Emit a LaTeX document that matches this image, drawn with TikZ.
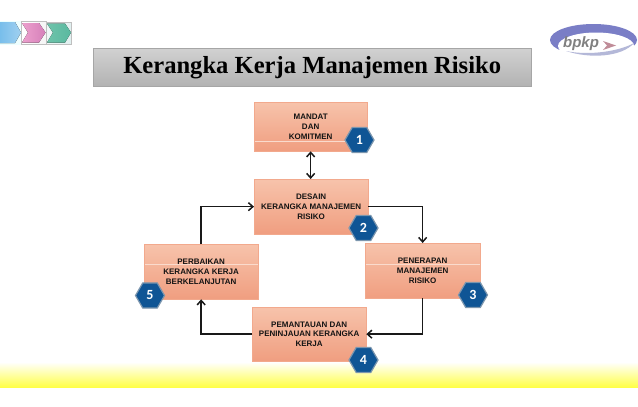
\documentclass[tikz,border=0pt]{standalone}
\usepackage{fontspec}
\setmainfont{Liberation Sans}
\newfontfamily\titlefont{Liberation Serif}
\newfontfamily\digitfont{Carlito}
\usetikzlibrary{shapes.geometric,arrows.meta,calc}
\definecolor{boxtop}{HTML}{F7C3AB}
\definecolor{boxbot}{HTML}{F09E80}
\definecolor{hexfill}{HTML}{0F5595}
\definecolor{hexedge}{HTML}{7C96AE}
\definecolor{logoblue}{HTML}{7A7EC6}
\definecolor{logolow}{HTML}{B4B8D8}
\definecolor{logored}{HTML}{C08C98}
\tikzset{
  x=1pt,y=-1pt,
  stepbox/.style={rectangle,anchor=north west,top color=boxtop,bottom color=boxbot,draw=boxbot!70!boxtop,line width=0.3pt,align=center,inner sep=0pt,font=\fontsize{8}{9.8}\selectfont\bfseries,text=black!92},
  hexa/.style={regular polygon,regular polygon sides=6,minimum size=29pt,inner sep=0pt,fill=hexfill,draw=hexedge,line width=1.2pt,text=white,font=\fontsize{14}{14}\selectfont\digitfont\bfseries},
  conn/.style={line width=1.5pt,black!90,-{Straight Barb[length=4.5pt,width=8pt]}},
  connb/.style={line width=1.5pt,black!90,{Straight Barb[length=4.5pt,width=8pt]}-{Straight Barb[length=4.5pt,width=8pt]}},
  shine/.style={boxtop!60!white,line width=0.4pt},
  shineat/.style={path picture={\draw[shine] ($(path picture bounding box.north west)+(0,#1)$) -- ($(path picture bounding box.north east)+(0,#1)$);}}
}
\begin{document}
\begin{tikzpicture}
\useasboundingbox (0,0) rectangle (638,407);
\fill[white] (0,0) rectangle (638,407);
% yellow band
\fill[top color=white,bottom color=yellow!72!white] (0,362) rectangle (638,387);
% top chevrons
\fill[left color=cyan!8!white,right color=cyan!6!white] (0,21) rectangle (21.5,44);
\fill[left color=white!100!black,right color=black!4] (21.5,21) rectangle (46,44);
\draw[black!25,line width=0.3pt] (21.5,21) rectangle (46,44);
\fill[left color=teal!6!white,right color=teal!12!white] (46.5,22) rectangle (71.5,44);
\draw[black!25,line width=0.3pt] (46.5,22) rectangle (71.5,44);
\fill[left color={rgb,255:red,120;green,190;blue,235},right color={rgb,255:red,160;green,208;blue,240}] (0,22) -- (15,22) -- (21,32.5) -- (15,43) -- (0,43) -- cycle;
\fill[left color={rgb,255:red,236;green,160;blue,205},right color={rgb,255:red,214;green,128;blue,186}] (22,23) -- (39,23) -- (45.5,32.5) -- (39,42.5) -- (22,42.5) -- (28,32.5) -- cycle;
\fill[left color={rgb,255:red,110;green,195;blue,170},right color={rgb,255:red,90;green,185;blue,160}] (47,23.5) -- (65,23.5) -- (71,32.5) -- (65,42.5) -- (47,42.5) -- (53,32.5) -- cycle;
% title bar
\node[rectangle,anchor=north west,minimum width=438pt,minimum height=38pt,inner sep=0pt,top color=black!18,bottom color=black!30,draw=black!35,line width=0.4pt,font=\fontsize{24.6}{26}\selectfont\titlefont\bfseries,text=black] (title) at (93,48) {Kerangka Kerja Manajemen Risiko};
% logo
\fill[logoblue] (593.5,40) ellipse [x radius=43.5,y radius=16];
\fill[white] (596,46) ellipse [x radius=38,y radius=13.5];
\fill[white] (550,50) rectangle (638,58);
\fill[logolow] (566,51) .. controls (590,56) and (620,51) .. (634,43) .. controls (622,57) and (590,59) .. (566,51) -- cycle;
\fill[logored] (603,41) -- (616,45.5) -- (603,50) -- (607,45.5) -- cycle;
\node[font=\fontsize{15}{15}\selectfont\itshape\bfseries,text=black!50,inner sep=0pt] (logo) at (581,44) {bpkp};
% boxes
\node[stepbox,shineat=39,minimum width=113pt,minimum height=49pt] (m) at (254,102) {MANDAT\\DAN\\KOMITMEN};
\node[stepbox,minimum width=114pt,minimum height=55pt] (d) at (254,179) {DESAIN\\KERANGKA MANAJEMEN\\RISIKO};
\node[stepbox,shineat=20,minimum width=114pt,minimum height=55pt] (b) at (144,244) {PERBAIKAN\\KERANGKA KERJA\\BERKELANJUTAN};
\node[stepbox,shineat=21,minimum width=115pt,minimum height=55pt] (p) at (365,243) {PENERAPAN\\MANAJEMEN\\RISIKO};
\node[stepbox,minimum width=114pt,minimum height=54pt] (t) at (252,307) {PEMANTAUAN DAN\\PENINJAUAN KERANGKA\\KERJA};
% connectors
\draw[connb] (m.south) -- (m.south |- d.north);
\draw[conn] (d.east) -| (p.north);
\draw[conn] (p.south) |- (t.east);
\draw[conn] (t.west) -| (b.south);
\draw[conn] (b.north) |- (d.west);
% hexagons
\node[hexa] (h1) at (359.5,140) {1};
\node[hexa] (h2) at (363.5,228) {2};
\node[hexa] (h3) at (473,295) {3};
\node[hexa] (h4) at (363.5,360) {4};
\node[hexa] (h5) at (150,295.5) {5};
\end{tikzpicture}
\end{document}
